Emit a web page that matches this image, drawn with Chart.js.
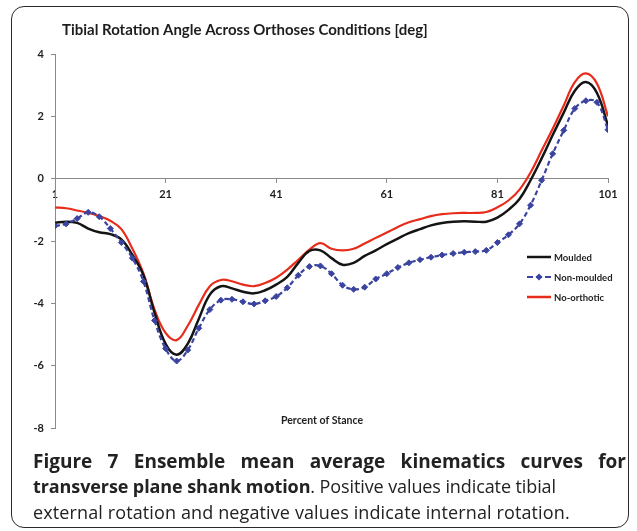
<!DOCTYPE html>
<html>
<head>
<meta charset="utf-8">
<script src="https://cdn.jsdelivr.net/npm/chart.js@4"></script>
<style>
  html, body { margin: 0; padding: 0; background: #fff; }
  #wrap { position: relative; width: 637px; height: 531px; overflow: hidden; }
  #frame {
    position: absolute; left: 11px; top: 6px; width: 616px; height: 520px;
    border: 1.5px solid #2a2a2a; border-radius: 13px;
  }
  canvas { position: absolute; left: 0; top: 0; }
  .caption {
    position: absolute; left: 33px; width: 593px;
    font-family: "Open Sans", sans-serif; color: #222; white-space: nowrap;
  }
  .l1 { top: 448px; font-size: 19px; font-weight: bold; text-align: justify; text-align-last: justify; white-space: normal; }
  .l2 { top: 474px; font-size: 18px; letter-spacing: -0.1px; }
  .l3 { top: 500px; font-size: 18px; letter-spacing: 0.12px; }
  b { font-weight: bold; }
</style>
</head>
<body>
<div id="wrap">
  <div id="frame"></div>
  <canvas id="tibial" width="637" height="531"></canvas>
  <div class="caption l1">Figure 7 Ensemble mean average kinematics curves for</div>
  <div class="caption l2"><b>transverse plane shank motion</b>. Positive values indicate tibial</div>
  <div class="caption l3">external rotation and negative values indicate internal rotation.</div>
</div>
<script>
// ---------------------------- data ----------------------------
let stance = [1, 3, 5, 7, 9, 11, 13, 15, 17, 19, 21, 23, 25, 27, 29, 31, 33, 35, 37, 39,
  41, 43, 45, 47, 49, 51, 53, 55, 57, 59, 61, 63, 65, 67, 69, 71, 73, 75, 77, 79,
  81, 83, 85, 87, 89, 91, 93, 95, 97, 99, 101];

let moulded = [-1.42, -1.38, -1.42, -1.6, -1.72, -1.78, -1.95, -2.45, -3.1, -4.3,
  -5.3, -5.65, -5.3, -4.5, -3.72, -3.45, -3.52, -3.63, -3.68, -3.58,
  -3.4, -3.15, -2.7, -2.32, -2.3, -2.55, -2.76, -2.7, -2.48, -2.3,
  -2.1, -1.92, -1.75, -1.62, -1.5, -1.42, -1.38, -1.37, -1.38, -1.38,
  -1.25, -1.0, -0.65, -0.05, 0.65, 1.4, 2.12, 2.82, 3.1, 2.75, 1.7];

let nonMoulded = [-1.52, -1.45, -1.28, -1.08, -1.22, -1.6, -2.05, -2.55, -3.3, -4.55,
  -5.45, -5.85, -5.5, -4.8, -4.2, -3.9, -3.87, -3.95, -4.02, -3.92,
  -3.78, -3.5, -3.1, -2.82, -2.8, -3.05, -3.42, -3.55, -3.48, -3.22,
  -3.05, -2.85, -2.7, -2.6, -2.52, -2.45, -2.4, -2.36, -2.34, -2.3,
  -2.05, -1.8, -1.45, -0.85, -0.05, 0.8, 1.55, 2.25, 2.5, 2.45, 1.57];

let noOrthotic = [-0.92, -0.95, -1.02, -1.1, -1.2, -1.35, -1.62, -2.25, -3.05, -4.2,
  -4.95, -5.18, -4.72, -4.05, -3.45, -3.25, -3.29, -3.4, -3.45, -3.35,
  -3.18, -2.92, -2.6, -2.28, -2.07, -2.25, -2.3, -2.25, -2.08, -1.9,
  -1.73, -1.55, -1.4, -1.3, -1.2, -1.14, -1.11, -1.1, -1.1, -1.07,
  -0.92, -0.7, -0.35, 0.2, 0.9, 1.6, 2.35, 3.1, 3.38, 3.05, 2.0];

let xTicks = [1, 21, 41, 61, 81, 101];
let yTicks = [4, 2, 0, -2, -4, -6, -8];

let chartTitle = "Tibial Rotation Angle Across Orthoses Conditions [deg]";
let xTitle = "Percent of Stance";
let seriesNames = ["Moulded", "Non-moulded", "No-orthotic"];

// ------------------------------------------------------------------------------------
const BLACK = "#141414";
const BLUE = "rgb(58, 68, 160)";
const RED = "rgb(232, 44, 28)";
const AXIS = "#8a8a8a";
const FONT = "Lato, sans-serif";

let toPoints = (vals) => stance.map((x, i) => ({ x: x, y: vals[i] }));

// title, x axis title and legend drawn inside the chart frame
const extras = {
  id: "extras",
  afterDraw(chart) {
    const c = chart.ctx;
    c.save();
    c.fillStyle = "#1e1e1e";
    c.textBaseline = "middle";
    c.textAlign = "left";

    // chart title, fitted to its width in the figure
    let size = 14;
    c.font = `bold ${size}px ${FONT}`;
    size = size * 366 / c.measureText(chartTitle).width;
    c.font = `bold ${size.toFixed(2)}px ${FONT}`;
    c.fillText(chartTitle, 62, 30);

    c.font = `bold 10.5px ${FONT}`;
    c.textAlign = "center";
    c.fillText(xTitle, 322, 421);

    // legend
    let rows = [257, 277, 297];
    c.textAlign = "left";
    c.font = `bold 9.5px ${FONT}`;
    rows.forEach((y, i) => {
      c.beginPath();
      c.moveTo(527, y);
      c.lineTo(551, y);
      if (i == 0) { c.strokeStyle = BLACK; c.lineWidth = 2.5; c.setLineDash([]); }
      if (i == 1) { c.strokeStyle = BLUE; c.lineWidth = 2; c.setLineDash([6, 3]); }
      if (i == 2) { c.strokeStyle = RED; c.lineWidth = 2.5; c.setLineDash([]); }
      c.stroke();
      c.setLineDash([]);
      if (i == 1) {
        c.fillStyle = BLUE;
        c.beginPath();
        c.moveTo(539, y - 3.5); c.lineTo(542.5, y); c.lineTo(539, y + 3.5); c.lineTo(535.5, y);
        c.closePath();
        c.fill();
      }
      c.fillStyle = "#1e1e1e";
      c.fillText(seriesNames[i], 554, y + 0.5);
    });
    c.restore();
  },
};

new Chart(document.getElementById("tibial"), {
  type: "line",
  data: {
    datasets: [
      {
        label: seriesNames[1],
        data: toPoints(nonMoulded),
        borderColor: BLUE,
        backgroundColor: BLUE,
        borderWidth: 2.2,
        borderDash: [5, 3],
        pointStyle: "rectRot",
        pointRadius: 3,
        pointBorderWidth: 1,
        tension: 0.4,
      },
      {
        label: seriesNames[0],
        data: toPoints(moulded),
        borderColor: BLACK,
        backgroundColor: BLACK,
        borderWidth: 2.5,
        pointRadius: 0,
        tension: 0.4,
      },
      {
        label: seriesNames[2],
        data: toPoints(noOrthotic),
        borderColor: RED,
        backgroundColor: RED,
        borderWidth: 2.2,
        pointRadius: 0,
        tension: 0.4,
      },
    ],
  },
  options: {
    responsive: false,
    animation: false,
    layout: { padding: { left: 0, right: 29, top: 54, bottom: 103 } },
    plugins: {
      legend: { display: false },
      tooltip: { enabled: false },
    },
    scales: {
      x: {
        type: "linear",
        position: { y: 0 },
        min: 1,
        max: 101,
        afterBuildTicks: (axis) => { axis.ticks = xTicks.map((v) => ({ value: v })); },
        ticks: { color: "#1e1e1e", font: { family: FONT, size: 11, weight: "bold" }, padding: 5, maxRotation: 0 },
        grid: { drawOnChartArea: false, drawTicks: true, tickLength: 4, color: AXIS },
        border: { color: AXIS, width: 1 },
      },
      y: {
        min: -8,
        max: 4,
        afterBuildTicks: (axis) => { axis.ticks = yTicks.map((v) => ({ value: v })); },
        afterFit: (axis) => { axis.width = 55; },
        ticks: { color: "#1e1e1e", font: { family: FONT, size: 11, weight: "bold" }, padding: 7 },
        grid: { drawOnChartArea: false, drawTicks: true, tickLength: 4, color: AXIS },
        border: { color: AXIS, width: 1 },
      },
    },
  },
  plugins: [extras],
});
</script>
</body>
</html>
